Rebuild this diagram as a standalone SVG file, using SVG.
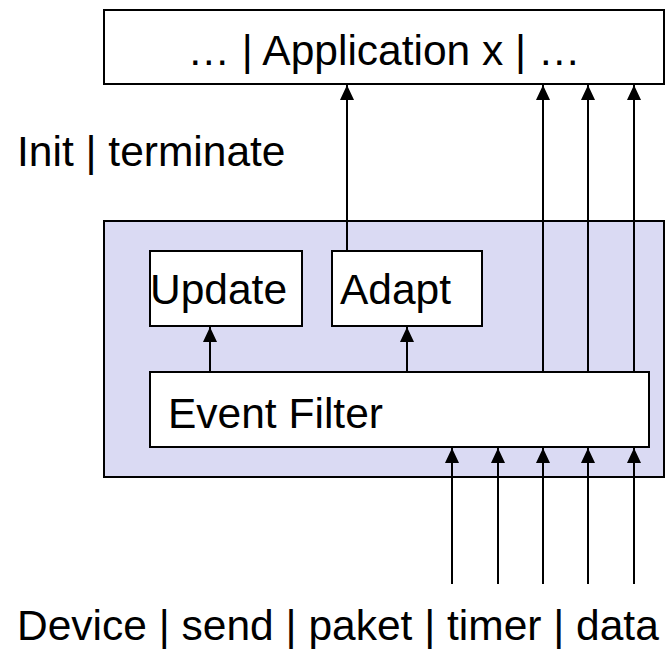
<svg xmlns="http://www.w3.org/2000/svg" width="672" height="649" viewBox="0 0 672 649">
<style>
.box{fill:#fff;stroke:#000;stroke-width:2}
.panel{fill:#DADAF3;stroke:#000;stroke-width:2}
.t{font-family:"Liberation Sans",Arial,sans-serif;font-size:42.5px;fill:#000}
.c{stroke:#000;stroke-width:2;fill:none;marker-end:url(#ah)}
</style>
<defs>
<marker id="ah" markerUnits="userSpaceOnUse" markerWidth="16" markerHeight="16" viewBox="0 0 16 16" refX="15" refY="8" orient="auto">
<path d="M0,1 L15,8 L0,15 Z" fill="#000"/>
</marker>
</defs>
<g id="application">
<rect class="box" x="104" y="10" width="560" height="74"/>
<text class="t" x="384" y="65" text-anchor="middle">… | Application x | …</text>
</g>
<g id="init-label">
<text class="t" x="17" y="166">Init | terminate</text>
</g>
<g id="panel">
<rect class="panel" x="104" y="221" width="560" height="256"/>
</g>
<g id="update">
<rect class="box" x="150" y="251" width="152" height="75"/>
<text class="t" x="150" y="304">Update</text>
</g>
<g id="adapt">
<rect class="box" x="332" y="251" width="150" height="75"/>
<text class="t" x="340" y="304">Adapt</text>
</g>
<g id="event-filter">
<rect class="box" x="150" y="372" width="499" height="75"/>
<text class="t" x="168" y="428">Event Filter</text>
</g>
<g id="source-label">
<text class="t" x="17" y="640">Device | send | paket | timer | data</text>
</g>
<g id="connectors">
<line class="c" x1="347" y1="251" x2="347" y2="85"/>
<line class="c" x1="543" y1="372" x2="543" y2="85"/>
<line class="c" x1="588" y1="372" x2="588" y2="85"/>
<line class="c" x1="634" y1="372" x2="634" y2="85"/>
<line class="c" x1="210" y1="372" x2="210" y2="327"/>
<line class="c" x1="407" y1="372" x2="407" y2="327"/>
<line class="c" x1="452" y1="584" x2="452" y2="448"/>
<line class="c" x1="498" y1="584" x2="498" y2="448"/>
<line class="c" x1="543" y1="584" x2="543" y2="448"/>
<line class="c" x1="588" y1="584" x2="588" y2="448"/>
<line class="c" x1="634" y1="584" x2="634" y2="448"/>
</g>
</svg>
